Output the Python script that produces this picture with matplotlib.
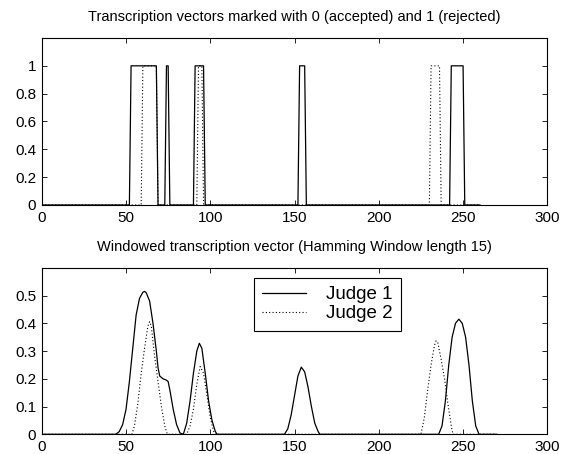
import matplotlib
matplotlib.use("Agg")
import matplotlib.pyplot as plt

# Binary transcription vectors (breakpoints of the step traces)
judge1_x = [0, 52, 53, 68, 69, 73, 74, 75, 76, 90, 91, 96, 97, 152, 153, 156, 157, 242, 243, 250, 251, 260]
judge1_y = [0, 0, 1, 1, 0, 0, 1, 1, 0, 0, 1, 1, 0, 0, 1, 1, 0, 0, 1, 1, 0, 0]
judge2_x = [0, 59, 60, 68, 69, 92, 93, 95, 96, 230, 231, 236, 237, 260]
judge2_y = [0, 0, 1, 1, 0, 0, 1, 1, 0, 0, 1, 1, 0, 0]

# Windowed vectors (Hamming window, length 15)
win1_x = [0, 44, 46, 48, 50, 52, 54, 56, 58, 60, 61, 62, 64, 66, 68, 69, 70, 72, 74, 75, 76, 78, 80, 82, 84,
          86, 88, 90, 92, 93.5, 95, 97, 99, 101, 103, 104,
          144, 146, 148, 150, 152, 154, 156, 158, 160, 162, 164, 165,
          235.5, 237.5, 239.5, 241.5, 243.5, 245.5, 247.5, 249.5, 251.5, 253.5, 255.5, 257.5, 259.5, 270]
win1_y = [0, 0, 0.01, 0.035, 0.09, 0.19, 0.31, 0.43, 0.49, 0.512, 0.515, 0.51, 0.48, 0.40, 0.30, 0.24, 0.21, 0.20, 0.195, 0.19, 0.16, 0.09, 0.035, 0.005, 0,
          0.04, 0.12, 0.22, 0.30, 0.328, 0.31, 0.22, 0.12, 0.05, 0.01, 0,
          0, 0.02, 0.07, 0.14, 0.21, 0.242, 0.225, 0.17, 0.10, 0.04, 0.01, 0,
          0, 0.03, 0.12, 0.25, 0.35, 0.40, 0.415, 0.40, 0.35, 0.25, 0.12, 0.03, 0, 0]
win2_x = [0, 53.5, 55, 57, 59, 61, 63, 64, 65, 67, 69, 71, 73, 74.5,
          86, 88, 90, 92, 94, 96, 98, 100, 102, 103,
          225, 227, 229, 231, 233, 234, 235, 237, 239, 241, 243, 244, 270]
win2_y = [0, 0, 0.03, 0.11, 0.22, 0.31, 0.39, 0.406, 0.39, 0.28, 0.19, 0.10, 0.03, 0,
          0, 0.03, 0.09, 0.18, 0.244, 0.22, 0.14, 0.06, 0.01, 0,
          0, 0.06, 0.16, 0.25, 0.32, 0.337, 0.33, 0.27, 0.20, 0.11, 0.03, 0, 0]

xticks = [0, 50, 100, 150, 200, 250, 300]
top_yticks = [0, 0.2, 0.4, 0.6, 0.8, 1]
bottom_yticks = [0, 0.1, 0.2, 0.3, 0.4, 0.5]

plt.rcParams['font.family'] = ['Liberation Sans', 'DejaVu Sans']
dotted = (0, (1, 2))

fig = plt.figure(figsize=(5.72, 4.54), dpi=100)
ax1 = fig.add_axes([0.0730, 0.5485, 0.8839, 0.3678])
ax2 = fig.add_axes([0.0730, 0.0434, 0.8839, 0.3667])

ax1.plot(judge1_x, judge1_y, color='black', lw=0.9)
ax1.plot(judge2_x, judge2_y, color='black', lw=0.8, linestyle=dotted)
ax1.set_ylim(0, 1.2)
ax1.set_yticks(top_yticks)
ax1.set_yticklabels(['0', '0.2', '0.4', '0.6', '0.8', '1'])
ax1.set_title('Transcription vectors marked with 0 (accepted) and 1 (rejected)', fontsize=10.5, pad=12)

l1, = ax2.plot(win1_x, win1_y, color='black', lw=0.9, label='Judge 1')
l2, = ax2.plot(win2_x, win2_y, color='black', lw=0.8, linestyle=dotted, label='Judge 2')
ax2.set_ylim(0, 0.6)
ax2.set_yticks(bottom_yticks)
ax2.set_yticklabels(['0', '0.1', '0.2', '0.3', '0.4', '0.5'])
ax2.set_title('Windowed transcription vector (Hamming Window length 15)', fontsize=10.5, pad=12)
leg = ax2.legend(handles=[l1, l2], loc='upper left', bbox_to_anchor=(0.4197, 0.94),
                 fontsize=13.5, frameon=True, fancybox=False, edgecolor='black',
                 framealpha=1, borderpad=0.45, labelspacing=0.1, handlelength=2.3,
                 handletextpad=1.1, borderaxespad=0)
leg.get_frame().set_linewidth(0.8)

for ax in (ax1, ax2):
    ax.set_xlim(0, 300)
    ax.set_xticks(xticks)
    ax.tick_params(direction='in', top=True, right=True, length=3.5, width=0.6,
                   labelsize=11, pad=4)
    for s in ax.spines.values():
        s.set_linewidth(0.8)

fig.savefig('out.png', dpi=100)
